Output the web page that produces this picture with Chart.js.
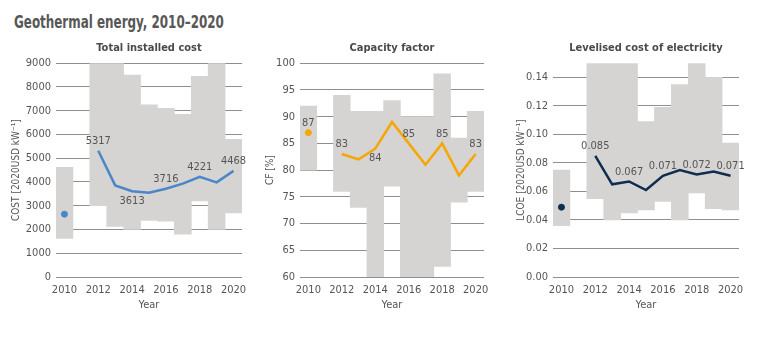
<!DOCTYPE html>
<html>
<head>
<meta charset="utf-8">
<script src="https://cdn.jsdelivr.net/npm/chart.js@4"></script>
<style>
    body { margin: 0; background: #fff; }
    #wrap { position: relative; width: 767px; height: 341px; overflow: hidden; }
    h1 { position: absolute; left: 14px; top: 12px; margin: 0; white-space: nowrap;
         font: bold 17px "DejaVu Sans Condensed", "DejaVu Sans", sans-serif; color: #575757;
         transform: scaleX(0.78); transform-origin: left top; }
    .panel { position: absolute; top: 36px; height: 276px; }
</style>
</head>
<body>
<div id="wrap">
    <h1>Geothermal energy, 2010–2020</h1>
    <div class="panel" style="left:0; width:247px;"><canvas id="cost"></canvas></div>
    <div class="panel" style="left:250px; width:239px;"><canvas id="cf"></canvas></div>
    <div class="panel" style="left:505px; width:239px;"><canvas id="lcoe"></canvas></div>
</div>
<script>
// years on the x axis
const years = ["2010", "2011", "2012", "2013", "2014", "2015", "2016", "2017", "2018", "2019", "2020"];

// total installed cost (2020USD/kW)
const costLow  = [1620, null, 3000, 2130, 2000, 2380, 2350, 1800, 3200, 2000, 2700];
const costHigh = [4620, null, 9000, 9000, 8500, 7250, 7100, 6850, 8450, 9000, 5800];
const costAvg  = [null, null, 5317, 3856, 3613, 3547, 3716, 3928, 4221, 3983, 4468];
const cost2010 = 2644;

// capacity factor (%)
const cfLow  = [80, null, 76, 73, 60, 77, 60, 60, 62, 74, 76];
const cfHigh = [92, null, 94, 91, 91, 93, 90, 90, 98, 86, 91];
const cfAvg  = [null, null, 83, 82, 84, 89, 85, 81, 85, 79, 83];
const cf2010 = 87;

// LCOE (2020USD/kWh)
const lcoeLow  = [0.036, null, 0.055, 0.040, 0.045, 0.047, 0.053, 0.040, 0.059, 0.048, 0.047];
const lcoeHigh = [0.075, null, 0.150, 0.150, 0.150, 0.109, 0.119, 0.135, 0.150, 0.140, 0.094];
const lcoeAvg  = [null, null, 0.085, 0.065, 0.067, 0.061, 0.071, 0.075, 0.072, 0.074, 0.071];
const lcoe2010 = 0.049;

const FONT = '"DejaVu Sans Condensed", "DejaVu Sans", sans-serif';
const TEXT = "#555555";
const GRID = "#8f8f8f";
const BAND = "#d5d4d3";

// small plugin for the value labels (index -> "above"/"below")
const valueLabels = {
    id: "valueLabels",
    afterDatasetsDraw(chart) {
        const ctx = chart.ctx;
        chart.data.datasets.forEach((ds, di) => {
            if (!ds.valueLabels) return;
            const meta = chart.getDatasetMeta(di);
            ctx.save();
            ctx.font = "11px " + FONT;
            ctx.fillStyle = TEXT;
            ctx.textAlign = "center";
            Object.keys(ds.valueLabels).forEach(i => {
                const pt = meta.data[i];
                const txt = ds.labelFmt(ds.data[i]);
                if (ds.valueLabels[i] === "above") {
                    ctx.textBaseline = "bottom";
                    ctx.fillText(txt, pt.x, pt.y - 4);
                } else {
                    ctx.textBaseline = "top";
                    ctx.fillText(txt, pt.x, pt.y + 4);
                }
            });
            ctx.restore();
        });
    }
};

function makePanel(id, cfg) {
    const bands = cfg.low.map((lo, i) => lo === null ? null : [lo, cfg.high[i]]);
    const single = years.map((y, i) => i === 0 ? cfg.first : null);
    new Chart(document.getElementById(id), {
        type: "bar",
        data: {
            labels: years,
            datasets: [
                {
                    type: "line",
                    data: cfg.avg,
                    borderColor: cfg.color,
                    borderWidth: 2.5,
                    pointRadius: 0,
                    tension: 0,
                    valueLabels: cfg.labels,
                    labelFmt: cfg.label,
                    order: 1
                },
                {
                    type: "line",
                    data: single,
                    borderColor: cfg.color,
                    backgroundColor: cfg.color,
                    pointRadius: 3,
                    showLine: false,
                    valueLabels: cfg.firstLabel ? { 0: "above" } : null,
                    labelFmt: cfg.label,
                    order: 1
                },
                {
                    data: bands,
                    backgroundColor: BAND,
                    barPercentage: 1,
                    categoryPercentage: 1,
                    order: 2
                }
            ]
        },
        options: {
            responsive: true,
            maintainAspectRatio: false,
            animation: false,
            layout: { padding: { left: cfg.padLeft, right: 3, top: 0, bottom: 0 } },
            plugins: {
                legend: { display: false },
                tooltip: { enabled: false },
                title: {
                    display: true,
                    fullSize: false,
                    text: cfg.title,
                    color: "#4a4a4a",
                    font: { family: FONT, size: 11, weight: "bold" },
                    padding: { top: 6, bottom: 8 }
                }
            },
            scales: {
                x: {
                    grid: { display: false },
                    border: { display: false },
                    afterFit: s => { s.height = 35; },
                    ticks: {
                        autoSkip: false,
                        maxRotation: 0,
                        padding: -1,
                        color: TEXT,
                        font: { family: FONT, size: 11 },
                        callback: (v, i) => i % 2 === 0 ? years[i] : ""
                    },
                    title: { display: true, text: "Year", color: TEXT, font: { family: FONT, size: 11 }, padding: { top: 1, bottom: 0 } }
                },
                y: {
                    z: 1,
                    min: cfg.min,
                    max: cfg.max,
                    border: { display: false },
                    grid: { color: GRID, drawTicks: false, lineWidth: 1 },
                    afterFit: s => { s.width = cfg.axisWidth; },
                    afterBuildTicks: s => { s.ticks = s.ticks.filter(t => t.value <= cfg.lastTick + 1e-9); },
                    ticks: {
                        stepSize: cfg.step,
                        padding: 5,
                        color: TEXT,
                        font: { family: FONT, size: 11 },
                        callback: cfg.tick
                    },
                    title: { display: true, text: cfg.yTitle, color: TEXT, font: { family: FONT, size: 10 }, padding: 0 }
                }
            }
        },
        plugins: [valueLabels]
    });
}

makePanel("cost", {
    title: "Total installed cost",
    yTitle: "COST [2020USD kW⁻¹]",
    low: costLow, high: costHigh, avg: costAvg, first: cost2010, firstLabel: false,
    color: "#4a86c8",
    min: 0, max: 9000, step: 1000, lastTick: 9000, padLeft: 10, axisWidth: 46,
    tick: v => String(v),
    label: v => String(v),
    labels: { 2: "above", 4: "below", 6: "above", 8: "above", 10: "above" }
});

makePanel("cf", {
    title: "Capacity factor",
    yTitle: "CF [%]",
    low: cfLow, high: cfHigh, avg: cfAvg, first: cf2010, firstLabel: true,
    color: "#f5a700",
    min: 60, max: 100, step: 5, lastTick: 100, padLeft: 14, axisWidth: 36,
    tick: v => String(v),
    label: v => String(v),
    labels: { 2: "above", 4: "below", 6: "above", 8: "above", 10: "above" }
});

makePanel("lcoe", {
    title: "Levelised cost of electricity",
    yTitle: "LCOE [2020USD kW⁻¹]",
    low: lcoeLow, high: lcoeHigh, avg: lcoeAvg, first: lcoe2010, firstLabel: false,
    color: "#0f2d4f",
    min: 0, max: 0.15, step: 0.02, lastTick: 0.14, padLeft: 10, axisWidth: 38,
    tick: v => v.toFixed(2),
    label: v => v.toFixed(3),
    labels: { 2: "above", 4: "above", 6: "above", 8: "above", 10: "above" }
});
</script>
</body>
</html>
